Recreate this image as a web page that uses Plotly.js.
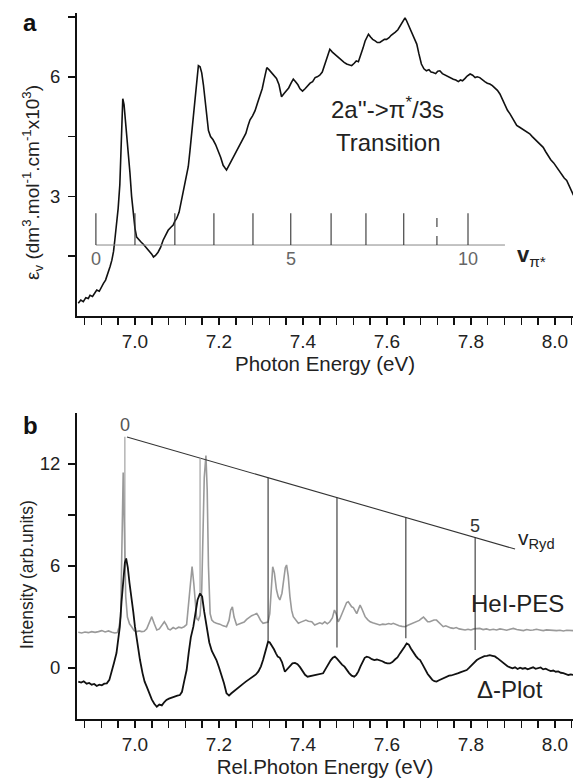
<!DOCTYPE html>
<html>
<head>
<meta charset="utf-8">
<script src="https://cdn.plot.ly/plotly-3.0.1.min.js"></script>
<style>html,body{margin:0;padding:0;background:#fff;}#chart{width:574px;height:780px;}</style>
</head>
<body>
<div id="chart"></div>
<script>
// ---------- Panel a: absorption spectrum ----------
const absEnergy = [
6.865,6.871,6.877,6.883,6.889,6.893,6.899,6.904,6.909,6.915,
6.920,6.925,6.930,6.936,6.941,6.945,6.949,6.952,6.956,6.960,
6.964,6.968,6.971,6.974,6.978,6.984,6.988,6.992,6.996,7.000,
7.004,7.010,7.015,7.020,7.025,7.030,7.036,7.040,7.044,7.049,
7.055,7.061,7.067,7.073,7.079,7.085,7.091,7.095,7.099,7.105,
7.111,7.115,7.121,7.127,7.131,7.135,7.139,7.143,7.147,7.151,
7.155,7.159,7.163,7.167,7.171,7.175,7.180,7.186,7.192,7.198,
7.204,7.210,7.214,7.218,7.222,7.226,7.230,7.235,7.240,7.246,
7.252,7.258,7.264,7.270,7.274,7.280,7.286,7.292,7.298,7.303,
7.308,7.314,7.319,7.325,7.331,7.337,7.343,7.349,7.355,7.361,
7.366,7.372,7.377,7.382,7.388,7.393,7.399,7.405,7.411,7.417,
7.423,7.429,7.434,7.440,7.446,7.452,7.458,7.464,7.470,7.476,
7.482,7.487,7.492,7.498,7.504,7.510,7.516,7.522,7.527,7.532,
7.538,7.543,7.548,7.552,7.556,7.561,7.566,7.572,7.577,7.583,
7.588,7.594,7.599,7.605,7.610,7.615,7.620,7.626,7.631,7.637,
7.643,7.647,7.651,7.655,7.660,7.665,7.671,7.676,7.682,7.688,
7.694,7.700,7.705,7.710,7.716,7.721,7.726,7.732,7.737,7.742,
7.748,7.753,7.758,7.764,7.770,7.775,7.780,7.786,7.791,7.798,
7.804,7.810,7.815,7.821,7.827,7.833,7.839,7.845,7.851,7.857,
7.863,7.869,7.875,7.881,7.887,7.893,7.899,7.904,7.909,7.915,
7.921,7.927,7.933,7.940,7.946,7.952,7.958,7.965,7.972,7.978,
7.984,7.990,7.997,8.004,8.010,8.016,8.022,8.028,8.034,8.040,
8.044];
const absValue = [
0.32,0.40,0.36,0.46,0.44,0.52,0.49,0.58,0.65,0.62,
0.74,0.82,0.90,1.07,1.25,1.40,1.62,1.90,2.25,2.70,
3.30,4.30,5.45,5.30,4.85,4.20,3.60,3.00,2.57,2.20,
1.98,1.90,1.85,1.80,1.74,1.66,1.60,1.55,1.48,1.52,
1.60,1.72,1.90,2.02,2.15,2.22,2.28,2.38,2.44,2.60,
2.90,3.10,3.45,3.75,4.15,4.57,5.00,5.40,5.85,6.28,
6.25,6.10,5.80,5.40,5.00,4.65,4.50,4.42,4.30,4.15,
3.98,3.78,3.70,3.66,3.74,3.82,3.90,3.98,4.10,4.18,
4.30,4.44,4.58,4.80,4.92,5.02,5.15,5.35,5.55,5.70,
5.95,6.23,6.18,6.10,6.05,5.96,5.80,5.50,5.58,5.66,
5.72,5.85,5.94,5.88,5.80,5.70,5.64,5.70,5.78,5.84,
5.88,5.98,6.00,6.04,6.12,6.30,6.50,6.69,6.62,6.56,
6.50,6.46,6.40,6.36,6.32,6.30,6.28,6.34,6.40,6.38,
6.55,6.72,6.90,7.00,7.07,7.00,6.94,6.90,6.86,6.86,
6.90,6.94,6.94,6.98,7.04,7.07,7.12,7.18,7.28,7.36,
7.48,7.40,7.30,7.23,7.10,6.98,6.82,6.58,6.32,6.20,
6.15,6.18,6.12,6.11,6.08,6.14,6.15,6.08,6.05,6.03,
5.98,5.96,5.94,5.92,5.88,5.92,5.90,5.96,6.02,6.07,
6.04,5.98,6.00,5.98,5.92,5.88,5.84,5.82,5.78,5.72,
5.66,5.57,5.42,5.28,5.16,5.07,4.95,4.84,4.78,4.74,
4.70,4.66,4.62,4.57,4.50,4.44,4.38,4.30,4.23,4.12,
4.02,3.92,3.84,3.73,3.62,3.55,3.46,3.40,3.26,3.14,
3.03];

// vibrational progression v_pi* (panel a)
const piLevels  = [0,1,2,3,4,5,6,7,8,9,10];
const piEnergy  = [6.907,7.000,7.095,7.188,7.281,7.371,7.467,7.550,7.640,7.719,7.793];
const piBase    = 1.78;
const piTop     = 2.58;
const piLineEnd = 7.881;
const piLabels  = ["0","5","10"];
const piLabelAt = [6.907,7.371,7.793];

// ---------- Panel b: Delta-plot ----------
const dEnergy = [
6.865,6.872,6.878,6.885,6.891,6.897,6.903,6.909,6.915,6.921,
6.927,6.933,6.939,6.944,6.950,6.956,6.960,6.964,6.968,6.972,
6.976,6.979,6.983,6.987,6.992,6.996,7.000,7.006,7.012,7.018,
7.023,7.028,7.034,7.040,7.046,7.052,7.058,7.064,7.070,7.075,
7.081,7.088,7.094,7.101,7.107,7.112,7.117,7.123,7.128,7.133,
7.139,7.144,7.149,7.155,7.160,7.165,7.171,7.177,7.183,7.189,
7.194,7.200,7.206,7.212,7.218,7.224,7.229,7.234,7.240,7.246,
7.252,7.258,7.264,7.270,7.276,7.282,7.288,7.294,7.300,7.305,
7.310,7.314,7.317,7.321,7.326,7.331,7.336,7.340,7.345,7.350,
7.357,7.363,7.369,7.375,7.381,7.387,7.393,7.399,7.405,7.411,
7.417,7.423,7.429,7.435,7.441,7.448,7.454,7.460,7.466,7.471,
7.476,7.481,7.487,7.493,7.499,7.504,7.510,7.516,7.522,7.527,
7.532,7.537,7.542,7.547,7.552,7.558,7.564,7.570,7.576,7.583,
7.589,7.595,7.601,7.607,7.613,7.619,7.625,7.631,7.637,7.642,
7.647,7.652,7.657,7.663,7.669,7.674,7.679,7.685,7.691,7.697,
7.702,7.708,7.713,7.718,7.724,7.730,7.736,7.742,7.748,7.753,
7.758,7.764,7.770,7.776,7.782,7.790,7.796,7.802,7.808,7.814,
7.820,7.826,7.832,7.838,7.845,7.851,7.857,7.863,7.869,7.875,
7.881,7.887,7.893,7.899,7.905,7.911,7.917,7.923,7.929,7.935,
7.941,7.948,7.954,7.960,7.966,7.972,7.978,7.984,7.990,7.996,
8.002,8.008,8.014,8.020,8.026,8.032,8.038,8.044];
const dValue = [
-0.80,-0.86,-0.78,-0.92,-0.88,-0.98,-0.94,-1.06,-0.98,-1.02,
-0.92,-0.90,-0.70,-0.31,0.30,0.88,1.60,2.43,3.90,5.18,
6.20,6.45,5.90,5.00,4.20,3.30,2.43,1.40,0.47,-0.30,
-0.80,-1.10,-1.50,-1.85,-2.10,-2.28,-2.15,-2.20,-2.00,-1.88,
-1.80,-1.72,-1.68,-1.62,-1.59,-1.40,-0.80,-0.12,0.90,1.80,
2.43,3.30,4.00,4.39,4.20,3.30,2.43,1.50,1.00,0.70,
0.47,0.05,-0.40,-0.90,-1.49,-1.62,-1.50,-1.39,-1.30,-1.18,
-1.05,-0.92,-0.80,-0.70,-0.58,-0.51,-0.38,-0.20,0.10,0.47,
0.90,1.30,1.55,1.50,1.32,1.10,0.85,0.67,0.60,0.35,
-0.22,-0.05,0.10,0.27,0.30,0.22,0.05,-0.20,-0.40,-0.51,
-0.48,-0.46,-0.42,-0.40,-0.36,-0.31,-0.05,0.25,0.45,0.60,
0.67,0.55,0.35,0.20,0.08,-0.10,-0.30,-0.45,-0.51,-0.40,
-0.20,0.10,0.40,0.60,0.67,0.62,0.52,0.47,0.50,0.47,
0.40,0.32,0.27,0.27,0.35,0.50,0.62,0.86,1.05,1.25,
1.45,1.38,1.15,0.90,0.70,0.55,0.47,0.20,-0.10,-0.35,
-0.51,-0.70,-0.78,-0.80,-0.72,-0.64,-0.58,-0.52,-0.45,-0.44,
-0.41,-0.36,-0.30,-0.24,-0.18,-0.12,0.02,0.18,0.32,0.47,
0.56,0.64,0.70,0.72,0.76,0.72,0.68,0.58,0.47,0.32,
0.20,0.10,0.04,-0.02,0.04,-0.06,0.02,-0.04,0.00,-0.08,
-0.02,0.04,-0.05,-0.02,0.03,-0.08,-0.04,-0.12,-0.18,-0.15,
-0.22,-0.20,-0.28,-0.30,-0.36,-0.41,-0.38,-0.41];

// ---------- Panel b: HeI photoelectron spectrum ----------
const pesEnergy = [
6.865,6.873,6.881,6.889,6.897,6.905,6.913,6.921,6.929,6.937,
6.945,6.952,6.958,6.962,6.966,6.969,6.972,6.975,6.978,6.982,
6.987,6.992,6.998,7.004,7.010,7.016,7.022,7.028,7.034,7.040,
7.046,7.052,7.058,7.064,7.070,7.075,7.079,7.084,7.091,7.097,
7.104,7.111,7.117,7.123,7.128,7.132,7.136,7.140,7.144,7.147,
7.151,7.155,7.159,7.162,7.165,7.169,7.172,7.175,7.179,7.183,
7.188,7.194,7.202,7.210,7.218,7.224,7.228,7.232,7.236,7.242,
7.248,7.254,7.260,7.266,7.272,7.278,7.284,7.290,7.294,7.299,
7.305,7.311,7.317,7.321,7.325,7.328,7.332,7.337,7.341,7.345,
7.350,7.354,7.358,7.361,7.365,7.369,7.373,7.377,7.383,7.389,
7.395,7.401,7.407,7.413,7.421,7.428,7.434,7.440,7.446,7.452,
7.458,7.464,7.470,7.475,7.479,7.484,7.488,7.494,7.500,7.504,
7.508,7.512,7.516,7.520,7.524,7.528,7.532,7.536,7.540,7.544,
7.548,7.554,7.560,7.566,7.572,7.578,7.583,7.590,7.597,7.604,
7.610,7.615,7.622,7.629,7.636,7.643,7.650,7.657,7.664,7.671,
7.677,7.682,7.687,7.692,7.697,7.702,7.707,7.712,7.718,7.723,
7.728,7.734,7.740,7.746,7.752,7.758,7.765,7.772,7.779,7.786,
7.793,7.800,7.807,7.814,7.821,7.829,7.837,7.845,7.853,7.861,
7.869,7.877,7.885,7.893,7.901,7.909,7.917,7.925,7.933,7.941,
7.948,7.956,7.964,7.972,7.980,7.988,7.996,8.004,8.012,8.020,
8.028,8.036,8.044];
const pesValue = [
2.10,2.06,2.12,2.08,2.14,2.10,2.14,2.20,2.12,2.18,
2.10,2.06,2.08,2.40,3.02,6.50,11.50,8.00,4.20,3.00,
2.60,2.43,2.20,2.14,2.18,2.14,2.16,2.30,2.70,3.02,
2.60,2.24,2.30,2.50,2.72,2.52,2.30,2.24,2.38,2.30,
2.40,2.36,2.43,2.55,3.80,5.20,5.96,5.00,3.41,2.90,
2.82,3.10,4.60,8.00,11.20,12.50,10.50,6.00,3.20,2.82,
2.70,2.63,2.58,2.48,2.43,2.80,3.40,3.60,3.00,2.53,
2.58,2.63,2.70,2.86,3.00,3.08,3.14,3.20,3.05,2.80,
2.63,2.66,2.70,3.20,4.60,5.96,5.60,4.60,4.20,4.00,
4.40,5.20,5.90,6.06,5.40,4.20,3.40,3.02,2.80,2.63,
2.70,2.78,2.82,2.75,2.72,2.53,2.58,2.66,2.60,2.72,
2.60,2.72,2.95,3.41,3.20,2.72,2.90,3.30,3.70,3.85,
3.90,3.75,3.60,3.55,3.40,3.20,3.45,3.70,3.50,3.20,
3.02,2.85,2.72,2.66,2.60,2.55,2.53,2.58,2.56,2.62,
2.58,2.63,2.55,2.48,2.45,2.43,2.52,2.60,2.66,2.72,
2.80,2.90,3.00,2.86,2.72,2.72,2.78,2.82,2.82,2.70,
2.60,2.43,2.48,2.40,2.36,2.33,2.38,2.30,2.26,2.24,
2.28,2.24,2.30,2.33,2.33,2.26,2.30,2.24,2.28,2.24,
2.30,2.26,2.22,2.28,2.33,2.26,2.24,2.20,2.26,2.22,
2.24,2.28,2.24,2.20,2.24,2.22,2.24,2.20,2.22,2.18,
2.22,2.20,2.20];

// Rydberg progression (panel b)
const rydLevels = [0,1,2,3,4,5];
const rydEnergy = [6.976,7.155,7.317,7.481,7.645,7.810];
const rydTop    = [13.60,12.35,11.19,10.03,8.86,7.68];
const rydBottom = [6.40,4.40,1.60,1.20,1.75,1.06];
const rydLineX  = [6.981,7.905];
const rydLineY  = [13.59,7.00];

// ticks
const xTickVals  = [7.0,7.2,7.4,7.6,7.8,8.0];
const xTickText  = ["7.0","7.2","7.4","7.6","7.8","8.0"];
const xMinorVals = [6.88,6.92,6.96,7.04,7.08,7.12,7.16,7.24,7.28,7.32,7.36,7.44,7.48,7.52,7.56,7.64,7.68,7.72,7.76,7.84,7.88,7.92,7.96,8.04];
const yaTickVals  = [3,6];
const yaTickText  = ["3","6"];
const yaMinorVals = [1.5,4.5,7.5];
const ybTickVals  = [0,6,12];
const ybTickText  = ["0","6","12"];
const ybMinorVals = [3,9];

const FONT = "Liberation Sans, Arial, sans-serif";
const traces = [];

traces.push({x: absEnergy, y: absValue, xaxis:'x', yaxis:'y', mode:'lines',
  line:{color:'#111', width:1.6}, showlegend:false, hoverinfo:'skip'});

traces.push({x:[piEnergy[0], piLineEnd], y:[piBase, piBase], xaxis:'x', yaxis:'y', mode:'lines',
  line:{color:'#888', width:1}, showlegend:false, hoverinfo:'skip'});
piLevels.forEach((v,i)=>{
  traces.push({x:[piEnergy[i], piEnergy[i]], y:[piBase, piTop], xaxis:'x', yaxis:'y', mode:'lines',
    line:{color:'#333', width:1.1, dash: v===9 ? 'dash' : 'solid'}, showlegend:false, hoverinfo:'skip'});
});

traces.push({x: pesEnergy, y: pesValue, xaxis:'x2', yaxis:'y2', mode:'lines',
  line:{color:'#9a9a9a', width:1.6}, showlegend:false, hoverinfo:'skip'});
traces.push({x: dEnergy, y: dValue, xaxis:'x2', yaxis:'y2', mode:'lines',
  line:{color:'#111', width:1.8}, showlegend:false, hoverinfo:'skip'});

traces.push({x: rydLineX, y: rydLineY, xaxis:'x2', yaxis:'y2', mode:'lines',
  line:{color:'#333', width:1.1}, showlegend:false, hoverinfo:'skip'});
rydLevels.forEach((v,i)=>{
  traces.push({x:[rydEnergy[i], rydEnergy[i]], y:[rydBottom[i], rydTop[i]], xaxis:'x2', yaxis:'y2', mode:'lines',
    line:{color: i<2 ? '#999' : '#333', width:1.1}, showlegend:false, hoverinfo:'skip'});
});

const axisCommon = {
  showgrid:false, zeroline:false, showline:true, linecolor:'#111', linewidth:2,
  ticks:'outside', ticklen:7, tickwidth:1.5, tickcolor:'#111', mirror:false
};
const minorStyle = (vals)=>({tickmode:'array', tickvals:vals, ticks:'outside', ticklen:7, tickwidth:1.5, tickcolor:'#111', showgrid:false});
const xTickFont = {family:FONT, size:19, color:'#222'};
const yTickFont = {family:FONT, size:18.5, color:'#222'};

const annotations = [
  {xref:'paper', yref:'paper', x:(30-77)/496, y:1-22/780, xanchor:'center', yanchor:'middle', text:'<b>a</b>', showarrow:false, font:{family:FONT, size:24, color:'#111'}},
  {xref:'paper', yref:'paper', x:(30-77)/496, y:1-426/780, xanchor:'center', yanchor:'middle', text:'<b>b</b>', showarrow:false, font:{family:FONT, size:24, color:'#111'}},
  {xref:'paper', yref:'paper', x:(32-77)/496, y:1-183/780, xanchor:'center', yanchor:'middle', textangle:-90,
    text:'ε<sub>v</sub> (dm<sup>3</sup>.mol<sup>-1</sup>.cm<sup>-1</sup>x10<sup>3</sup>)', showarrow:false, font:{family:FONT, size:19, color:'#222'}},
  {xref:'paper', yref:'paper', x:(27-77)/496, y:1-575/780, xanchor:'center', yanchor:'middle', textangle:-90,
    text:'Intensity (arb.units)', showarrow:false, font:{family:FONT, size:17.5, color:'#222'}},
  {xref:'x', yref:'y', x:7.602, y:5.22, text:"2a''->π<sup>*</sup>/3s", showarrow:false, font:{family:FONT, size:24, color:'#222'}},
  {xref:'x', yref:'y', x:7.602, y:4.36, text:"Transition", showarrow:false, font:{family:FONT, size:24, color:'#222'}},
  {xref:'x', yref:'y', x:7.945, y:1.50, text:"<b>v</b><sub>π*</sub>", showarrow:false, font:{family:FONT, size:22, color:'#222'}},
  {xref:'x2', yref:'y2', x:rydEnergy[0], y:14.3, text:"0", showarrow:false, font:{family:FONT, size:18, color:'#555'}},
  {xref:'x2', yref:'y2', x:rydEnergy[5], y:8.35, text:"5", showarrow:false, font:{family:FONT, size:18, color:'#333'}},
  {xref:'x2', yref:'y2', x:7.955, y:7.6, text:"v<sub>Ryd</sub>", showarrow:false, font:{family:FONT, size:21, color:'#222'}},
  {xref:'x2', yref:'y2', x:7.912, y:3.82, text:"HeI-PES", showarrow:false, font:{family:FONT, size:24, color:'#222'}},
  {xref:'x2', yref:'y2', x:7.893, y:-1.29, text:"Δ-Plot", showarrow:false, font:{family:FONT, size:24, color:'#222'}}
];
piLabels.forEach((t,i)=>{
  annotations.push({xref:'x', yref:'y', x:piLabelAt[i], y:1.43, text:t, showarrow:false,
    font:{family:FONT, size:18, color:'#666'}});
});

const layout = {
  width:574, height:780,
  margin:{l:77, r:1, t:0, b:0},
  paper_bgcolor:'#fff', plot_bgcolor:'#fff',
  showlegend:false,
  font:{family:FONT, color:'#222'},
  xaxis: Object.assign({}, axisCommon, {domain:[0,1], anchor:'y', range:[6.862,8.043],
    tickmode:'array', tickvals:xTickVals, ticktext:xTickText, tickfont:xTickFont, minor:minorStyle(xMinorVals),
    title:{text:'Photon Energy (eV)', font:{family:FONT, size:20.5, color:'#222'}, standoff:5}}),
  yaxis: Object.assign({}, axisCommon, {domain:[0.5949,0.9833], anchor:'x', range:[0,7.6],
    tickmode:'array', tickvals:yaTickVals, ticktext:yaTickText, tickfont:yTickFont, ticklabelstandoff:4, minor:minorStyle(yaMinorVals)}),
  xaxis2: Object.assign({}, axisCommon, {domain:[0,1], anchor:'y2', range:[6.862,8.043],
    tickmode:'array', tickvals:xTickVals, ticktext:xTickText, tickfont:xTickFont, minor:minorStyle(xMinorVals),
    title:{text:'Rel.Photon Energy (eV)', font:{family:FONT, size:20.5, color:'#222'}, standoff:5}}),
  yaxis2: Object.assign({}, axisCommon, {domain:[0.0782,0.4705], anchor:'x2', range:[-3,15],
    tickmode:'array', tickvals:ybTickVals, ticktext:ybTickText, tickfont:yTickFont, ticklabelstandoff:4, minor:minorStyle(ybMinorVals)}),
  annotations: annotations
};

Plotly.newPlot('chart', traces, layout, {staticPlot:true, displayModeBar:false});
</script>
</body>
</html>
